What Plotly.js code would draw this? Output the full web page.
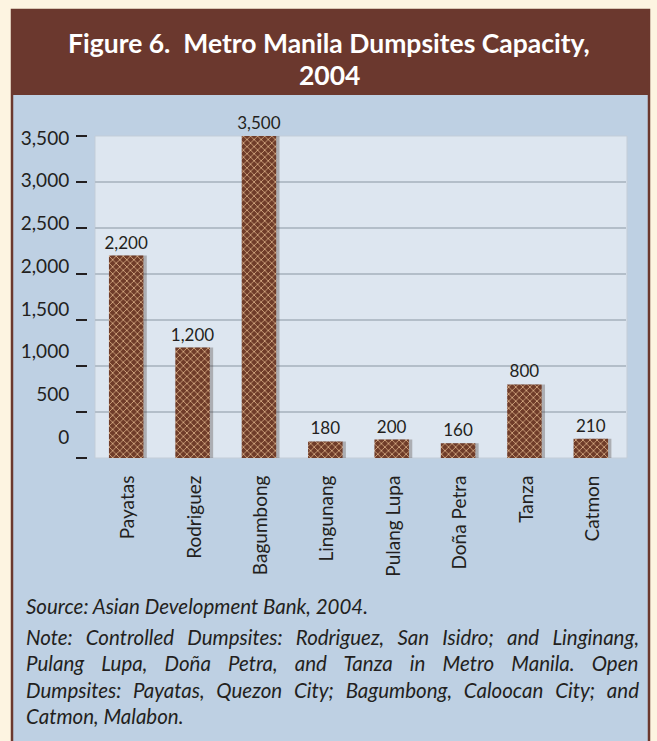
<!DOCTYPE html>
<html>
<head>
<meta charset="utf-8">
<script src="https://cdn.plot.ly/plotly-3.0.1.min.js"></script>
<style>html,body{margin:0;padding:0;background:#fdf4e1;}#chart{width:657px;height:741px;}</style>
</head>
<body>
<div id="chart"></div>
<script>
// ---- data ----
const categories = ['Payatas', 'Rodriguez', 'Bagumbong', 'Lingunang', 'Pulang Lupa', 'Doña Petra', 'Tanza', 'Catmon'];
const capacity = [2200, 1200, 3500, 180, 200, 160, 800, 210];
const yTickValues = [0, 500, 1000, 1500, 2000, 2500, 3000, 3500];
const yTickLabels = ['0', '500', '1,000', '1,500', '2,000', '2,500', '3,000', '3,500'];
const titleLines = ['Figure 6.\u00A0\u00A0Metro Manila Dumpsites Capacity,', '2004'];
const noteLines = [
  'Source: Asian Development Bank, 2004.',
  'Note: Controlled Dumpsites: Rodriguez, San Isidro; and Linginang,',
  'Pulang Lupa, Doña Petra, and Tanza in Metro Manila. Open',
  'Dumpsites: Payatas, Quezon City; Bagumbong, Caloocan City; and',
  'Catmon, Malabon.'
];
const justified = [false, true, true, true, false];

// ---- geometry helpers (pixel -> paper) ----
const W = 657, H = 741;
const M = {l: 87, r: 30, t: 136, b: 283};
const PW = W - M.l - M.r, PH = H - M.t - M.b;
const px = x => (x - M.l) / PW;
const py = y => (H - M.b - y) / PH;

const FONT = 'Lato, Open Sans, sans-serif';
const NOTE_SIZE = 20.5;

// measure for justification
const cv = document.createElement('canvas').getContext('2d');
cv.font = 'italic ' + NOTE_SIZE + 'px Lato';
function justify(t, target) {
  const w = cv.measureText(t).width;
  const n = (t.match(/ /g) || []).length;
  const ws = Math.max(0, (target - w) / n);
  return '<span style="word-spacing:' + ws.toFixed(2) + 'px">' + t + '</span>';
}

const traces = [
  { // shadow
    type: 'bar', x: categories, y: capacity, width: 0.52, offset: -0.24,
    marker: {color: 'rgba(60,45,40,0.30)', line: {width: 0}},
    hoverinfo: 'skip', showlegend: false
  },
  {
    type: 'bar', x: categories, y: capacity, width: 0.52, offset: -0.29,
    marker: {
      color: '#7a4631',
      line: {width: 0},
      pattern: {shape: 'x', fgcolor: '#d8ad86', bgcolor: '#6f3c29', size: 5, solidity: 0.3, fillmode: 'replace'}
    },
    text: capacity.map(v => v.toLocaleString('en-US')),
    textposition: 'outside',
    constraintext: 'none',
    textfont: {family: FONT, size: 17, color: '#231f20'},
    cliponaxis: false,
    showlegend: false
  },
  { // carrier for the tick-label axis
    type: 'scatter', mode: 'markers', x: categories, y: capacity, yaxis: 'y2',
    marker: {opacity: 0}, hoverinfo: 'skip', showlegend: false
  }
];

const shapes = [
  {type: 'rect', xref: 'paper', yref: 'paper', layer: 'below', x0: px(11), x1: px(649), y0: py(745), y1: py(95),
   fillcolor: '#bed0e3', line: {width: 0}},
  {type: 'rect', xref: 'paper', yref: 'paper', layer: 'below', x0: px(11), x1: px(649), y0: py(95), y1: py(9),
   fillcolor: '#6b382e', line: {width: 0}},
  {type: 'rect', xref: 'paper', yref: 'paper', layer: 'below', x0: px(12), x1: px(649), y0: py(745), y1: py(10),
   fillcolor: 'rgba(0,0,0,0)', line: {color: '#6b382e', width: 2.5}},
  {type: 'rect', xref: 'paper', yref: 'paper', layer: 'below', x0: px(95), x1: px(627), y0: py(458), y1: py(136),
   fillcolor: '#dde6f0', line: {color: '#c3cdd8', width: 1}}
];

const annotations = noteLines.map((t, i) => ({
  xref: 'paper', yref: 'paper', x: px(24), y: py([606, 637, 663, 690, 716][i]),
  xanchor: 'left', yanchor: 'middle', showarrow: false, align: 'left',
  text: justified[i] ? justify(t, 613) : t,
  font: {family: FONT, size: NOTE_SIZE, color: '#231f20', style: 'italic'}
}));
titleLines.forEach((t, i) => annotations.push({
  xref: 'paper', yref: 'paper', x: px(329), y: py([43, 75][i]),
  xanchor: 'center', yanchor: 'middle', showarrow: false,
  text: t, font: {family: FONT, size: 26.5, color: '#ffffff', weight: 700}
}));

const layout = {
  width: W, height: H,
  margin: M,
  paper_bgcolor: '#fdf4e1',
  plot_bgcolor: 'rgba(0,0,0,0)',
  barmode: 'overlay',
  showlegend: false,
  xaxis: {
    domain: [8 / PW, 1 - 1 / PW],
    type: 'category',
    tickangle: -90,
    ticks: 'outside', ticklen: 9, tickcolor: 'rgba(0,0,0,0)',
    tickfont: {family: FONT, size: 19, color: '#231f20'},
    showgrid: false, zeroline: false, showline: false,
    fixedrange: true
  },
  yaxis: {
    range: [0, 3500],
    anchor: 'free', position: 0,
    tickvals: yTickValues, showticklabels: false,
    ticks: 'outside', ticklen: 11, tickwidth: 1.3, tickcolor: '#231f20',
    showgrid: true, gridcolor: '#b3bec9', gridwidth: 1.5,
    zeroline: false, showline: false, fixedrange: true
  },
  yaxis2: {
    overlaying: 'y', anchor: 'free', position: 0, side: 'left',
    range: [-245.8, 3523.4],
    tickvals: yTickValues, ticktext: yTickLabels,
    ticks: 'outside', ticklen: 14, tickcolor: 'rgba(0,0,0,0)',
    tickfont: {family: FONT, size: 19, color: '#231f20'},
    showgrid: false, zeroline: false, showline: false, fixedrange: true
  },
  shapes: shapes,
  annotations: annotations
};

Plotly.newPlot('chart', traces, layout, {displayModeBar: false, staticPlot: true});
</script>
</body>
</html>
